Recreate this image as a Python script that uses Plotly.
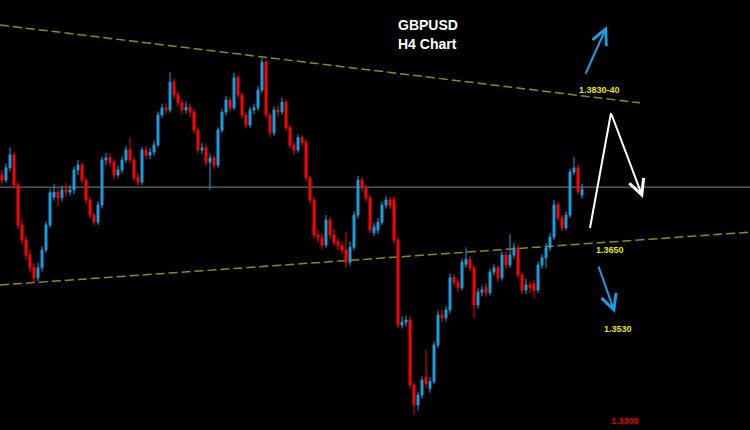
import plotly.graph_objects as go

# ---------------- data (GBPUSD H4 candles) ----------------
opens = [1.3745, 1.3738, 1.3755, 1.3773, 1.3731, 1.3675, 1.3654, 1.3633, 1.3615, 1.3601,
         1.3615, 1.3640, 1.3675, 1.3714, 1.3721, 1.3713, 1.3724, 1.3721, 1.3724, 1.3752,
         1.3759, 1.3738, 1.3710, 1.3689, 1.3679, 1.3703, 1.3766, 1.3769, 1.3763, 1.3745,
         1.3752, 1.3766, 1.3780, 1.3766, 1.3741, 1.3735, 1.3780, 1.3773, 1.3777, 1.3787,
         1.3829, 1.3839, 1.3836, 1.3875, 1.3857, 1.3846, 1.3836, 1.3840, 1.3833, 1.3808,
         1.3780, 1.3783, 1.3763, 1.3769, 1.3759, 1.3808, 1.3833, 1.3850, 1.3839, 1.3881,
         1.3857, 1.3829, 1.3815, 1.3836, 1.3839, 1.3864, 1.3903, 1.3829, 1.3804, 1.3836,
         1.3833, 1.3847, 1.3811, 1.3787, 1.3780, 1.3797, 1.3791, 1.3741, 1.3710, 1.3661,
         1.3657, 1.3647, 1.3682, 1.3661, 1.3651, 1.3646, 1.3640, 1.3623, 1.3644, 1.3689,
         1.3738, 1.3727, 1.3713, 1.3664, 1.3668, 1.3679, 1.3703, 1.3710, 1.3710, 1.3654,
         1.3535, 1.3539, 1.3542, 1.3451, 1.3423, 1.3437, 1.3462, 1.3446, 1.3456, 1.3507,
         1.3549, 1.3545, 1.3556, 1.3601, 1.3595, 1.3587, 1.3620, 1.3627, 1.3615, 1.3563,
         1.3581, 1.3588, 1.3580, 1.3609, 1.3615, 1.3601, 1.3633, 1.3619, 1.3633, 1.3643,
         1.3605, 1.3584, 1.3591, 1.3593, 1.3584, 1.3619, 1.3629, 1.3643, 1.3658, 1.3703,
         1.3685, 1.3671, 1.3689, 1.3749, 1.3755, 1.3717]
highs = [1.3752, 1.3761, 1.3784, 1.3777, 1.3735, 1.3683, 1.3660, 1.3640, 1.3621, 1.3622,
         1.3645, 1.3680, 1.3726, 1.3732, 1.3728, 1.3730, 1.3735, 1.3731, 1.3757, 1.3766,
         1.3762, 1.3741, 1.3714, 1.3693, 1.3708, 1.3771, 1.3776, 1.3775, 1.3768, 1.3758,
         1.3771, 1.3786, 1.3798, 1.3770, 1.3748, 1.3784, 1.3786, 1.3783, 1.3793, 1.3834,
         1.3845, 1.3846, 1.3889, 1.3880, 1.3862, 1.3851, 1.3848, 1.3845, 1.3838, 1.3812,
         1.3790, 1.3788, 1.3775, 1.3773, 1.3812, 1.3838, 1.3856, 1.3854, 1.3888, 1.3885,
         1.3860, 1.3833, 1.3840, 1.3845, 1.3869, 1.3909, 1.3906, 1.3832, 1.3841, 1.3842,
         1.3853, 1.3850, 1.3815, 1.3792, 1.3802, 1.3801, 1.3795, 1.3744, 1.3714, 1.3668,
         1.3664, 1.3689, 1.3686, 1.3670, 1.3657, 1.3652, 1.3665, 1.3652, 1.3694, 1.3744,
         1.3742, 1.3731, 1.3717, 1.3678, 1.3685, 1.3708, 1.3716, 1.3714, 1.3715, 1.3658,
         1.3547, 1.3548, 1.3548, 1.3455, 1.3442, 1.3463, 1.3500, 1.3462, 1.3512, 1.3555,
         1.3556, 1.3562, 1.3607, 1.3606, 1.3600, 1.3628, 1.3644, 1.3632, 1.3619, 1.3586,
         1.3590, 1.3594, 1.3614, 1.3620, 1.3619, 1.3638, 1.3638, 1.3662, 1.3650, 1.3647,
         1.3609, 1.3600, 1.3596, 1.3598, 1.3624, 1.3634, 1.3650, 1.3664, 1.3710, 1.3708,
         1.3689, 1.3694, 1.3754, 1.3770, 1.3760, 1.3733]
lows = [1.3731, 1.3734, 1.3750, 1.3726, 1.3669, 1.3648, 1.3626, 1.3608, 1.3594, 1.3596,
        1.3610, 1.3636, 1.3671, 1.3709, 1.3701, 1.3708, 1.3714, 1.3716, 1.3718, 1.3745,
        1.3733, 1.3704, 1.3684, 1.3674, 1.3675, 1.3698, 1.3759, 1.3757, 1.3739, 1.3741,
        1.3747, 1.3762, 1.3762, 1.3736, 1.3730, 1.3731, 1.3768, 1.3767, 1.3772, 1.3784,
        1.3825, 1.3830, 1.3832, 1.3852, 1.3840, 1.3830, 1.3831, 1.3826, 1.3803, 1.3775,
        1.3774, 1.3757, 1.3724, 1.3753, 1.3755, 1.3804, 1.3828, 1.3834, 1.3836, 1.3852,
        1.3824, 1.3810, 1.3811, 1.3830, 1.3835, 1.3860, 1.3824, 1.3798, 1.3800, 1.3826,
        1.3829, 1.3806, 1.3782, 1.3773, 1.3776, 1.3785, 1.3736, 1.3705, 1.3656, 1.3650,
        1.3640, 1.3643, 1.3655, 1.3645, 1.3640, 1.3634, 1.3615, 1.3618, 1.3640, 1.3684,
        1.3722, 1.3708, 1.3663, 1.3659, 1.3662, 1.3675, 1.3698, 1.3697, 1.3648, 1.3530,
        1.3530, 1.3533, 1.3446, 1.3409, 1.3415, 1.3432, 1.3447, 1.3440, 1.3452, 1.3503,
        1.3538, 1.3540, 1.3551, 1.3589, 1.3581, 1.3583, 1.3615, 1.3610, 1.3545, 1.3558,
        1.3575, 1.3574, 1.3576, 1.3604, 1.3595, 1.3597, 1.3613, 1.3615, 1.3628, 1.3600,
        1.3579, 1.3578, 1.3580, 1.3573, 1.3580, 1.3614, 1.3615, 1.3639, 1.3654, 1.3680,
        1.3666, 1.3667, 1.3685, 1.3745, 1.3718, 1.3712]
closes = [1.3738, 1.3755, 1.3773, 1.3731, 1.3675, 1.3654, 1.3633, 1.3615, 1.3601, 1.3615,
          1.3640, 1.3675, 1.3720, 1.3721, 1.3713, 1.3724, 1.3721, 1.3724, 1.3752, 1.3759,
          1.3738, 1.3710, 1.3689, 1.3679, 1.3703, 1.3766, 1.3769, 1.3763, 1.3745, 1.3752,
          1.3766, 1.3780, 1.3766, 1.3741, 1.3735, 1.3780, 1.3773, 1.3777, 1.3787, 1.3829,
          1.3839, 1.3836, 1.3875, 1.3857, 1.3846, 1.3836, 1.3840, 1.3833, 1.3808, 1.3780,
          1.3783, 1.3763, 1.3769, 1.3759, 1.3808, 1.3833, 1.3850, 1.3839, 1.3881, 1.3857,
          1.3829, 1.3815, 1.3836, 1.3839, 1.3864, 1.3903, 1.3829, 1.3804, 1.3836, 1.3833,
          1.3847, 1.3811, 1.3787, 1.3780, 1.3797, 1.3791, 1.3741, 1.3710, 1.3661, 1.3657,
          1.3647, 1.3682, 1.3661, 1.3651, 1.3646, 1.3640, 1.3623, 1.3644, 1.3689, 1.3738,
          1.3727, 1.3713, 1.3668, 1.3672, 1.3679, 1.3703, 1.3710, 1.3703, 1.3654, 1.3535,
          1.3539, 1.3542, 1.3451, 1.3423, 1.3437, 1.3458, 1.3453, 1.3456, 1.3507, 1.3549,
          1.3545, 1.3556, 1.3601, 1.3595, 1.3587, 1.3623, 1.3627, 1.3615, 1.3563, 1.3581,
          1.3584, 1.3580, 1.3609, 1.3615, 1.3601, 1.3633, 1.3619, 1.3633, 1.3643, 1.3605,
          1.3584, 1.3591, 1.3587, 1.3584, 1.3619, 1.3629, 1.3643, 1.3658, 1.3703, 1.3685,
          1.3671, 1.3689, 1.3749, 1.3755, 1.3722, 1.3725]
bars = list(range(len(closes)))

# reference levels drawn on the chart
upper_trend_x = [-0.5, 159.5]
upper_trend_y = [1.3955, 1.3846]
lower_trend_x = [-0.5, 187.0]
lower_trend_y = [1.3591, 1.3665]
pivot_level = 1.3728

title_lines = ["GBPUSD", "H4 Chart"]
level_labels = ["1.3830-40", "1.3650", "1.3530", "1.3300"]

W, H = 750, 430
BLUE = "#1a9fe2"
RED = "#ff0000"
YEL = "#e6e600"
DASH = "#8f8d08"


def px(x):
    return x / W


def py(y):
    return 1 - y / H


fig = go.Figure()
fig.add_trace(go.Candlestick(
    x=bars, open=opens, high=highs, low=lows, close=closes,
    increasing=dict(line=dict(color=BLUE, width=1), fillcolor=BLUE),
    decreasing=dict(line=dict(color=RED, width=1), fillcolor=RED),
    whiskerwidth=0, showlegend=False, hoverinfo="skip",
))

shapes = [
    dict(type="line", xref="paper", yref="y", x0=0, x1=1, y0=pivot_level, y1=pivot_level,
         line=dict(color="#80808c", width=1), layer="below"),
    dict(type="line", xref="x", yref="y", x0=upper_trend_x[0], x1=upper_trend_x[1],
         y0=upper_trend_y[0], y1=upper_trend_y[1],
         line=dict(color=DASH, width=1.5, dash="9px,4px"), layer="below"),
    dict(type="line", xref="x", yref="y", x0=lower_trend_x[0], x1=lower_trend_x[1],
         y0=lower_trend_y[0], y1=lower_trend_y[1],
         line=dict(color=DASH, width=1.5, dash="9px,4px"), layer="below"),
    # white projected path, first leg (up)
    dict(type="line", xref="paper", yref="paper", x0=px(590), y0=py(228), x1=px(611), y1=py(113),
         line=dict(color="white", width=2)),
]

annotations = []


def arrow(x_tail, y_tail, x_head, y_head, color):
    return dict(xref="paper", yref="paper", x=px(x_head), y=py(y_head),
                axref="pixel", ayref="pixel", ax=x_tail - x_head, ay=y_tail - y_head,
                showarrow=True, arrowhead=5, arrowsize=1.5, arrowwidth=2,
                arrowcolor=color, text="")


annotations.append(arrow(585, 75, 607, 26, BLUE))
annotations.append(arrow(611, 113, 643, 198, "white"))
annotations.append(arrow(598, 265, 615, 313, BLUE))

for txt, ty in zip(title_lines, [25, 44]):
    annotations.append(dict(xref="paper", yref="paper", x=px(396), y=py(ty), xanchor="left",
                            yanchor="middle", text="<b>" + txt + "</b>", showarrow=False,
                            font=dict(family="Liberation Sans, Arial", size=14, color="white")))

label_pos = [(577, 90, YEL), (594, 250, YEL), (602, 329, YEL), (609, 421, "#e00000")]
for txt, (lx, ly, col) in zip(level_labels, label_pos):
    annotations.append(dict(xref="paper", yref="paper", x=px(lx), y=py(ly), xanchor="left",
                            yanchor="middle", text="<b>" + txt + "</b>", showarrow=False,
                            font=dict(family="Liberation Sans, Arial", size=9, color=col)))

fig.update_layout(
    width=W, height=H,
    margin=dict(l=0, r=0, t=0, b=0),
    paper_bgcolor="black", plot_bgcolor="black",
    xaxis=dict(range=[-0.5, 187], visible=False, rangeslider=dict(visible=False),
               showgrid=False, zeroline=False),
    yaxis=dict(range=[1.3388, 1.3990], visible=False, showgrid=False, zeroline=False),
    shapes=shapes, annotations=annotations, showlegend=False,
)

fig.write_html(
    "out.html",
    config={"displayModeBar": False},
    post_script="document.body.style.margin='0';document.body.style.background='black';",
)
